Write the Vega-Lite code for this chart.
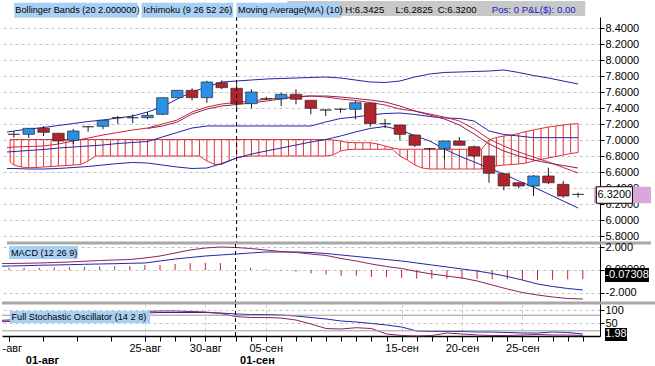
{
"$schema": "https://vega.github.io/schema/vega-lite/v6.json",
"padding": 0,
"spacing": 1,
"bounds": "flush",
"background": "white",
"config": {"view": {"stroke": null}, "font": "Liberation Sans", "axis": {"labelFont": "Liberation Sans", "labelFontSize": 11, "labelColor": "#000"}, "text": {"font": "Liberation Sans"}},
"datasets": {
"d": [
{"i":-0.46,"up":7.10,"lo":6.644,"kj":6.85,"ma":6.906,"md":0.557,"sg":0.33,"sk":60.4,"sd":55.0},
{"i":0,"o":7.071,"h":7.1125,"l":7.029,"c":7.071,"up":7.1125,"lo":6.644,"kj":6.856,"ma":6.9125,"md":0.565,"sg":0.348,"hs":0.2,"sk":61.5,"sd":55.8},
{"i":1,"o":7.071,"h":7.146,"l":7.025,"c":7.146,"up":7.1375,"lo":6.6375,"kj":6.869,"ma":6.919,"md":0.583,"sg":0.374,"hs":0.2,"sk":63.5,"sd":57.7},
{"i":2,"o":7.146,"h":7.175,"l":7.05,"c":7.096,"up":7.156,"lo":6.6375,"kj":6.881,"ma":6.925,"md":0.609,"sg":0.409,"hs":0.2,"sk":65.4,"sd":59.6},
{"i":3,"o":7.084,"h":7.09,"l":6.95,"c":6.9875,"up":7.181,"lo":6.644,"kj":6.90,"ma":6.95,"md":0.652,"sg":0.435,"hs":0.22,"sk":69.2,"sd":63.5},
{"i":4,"o":6.996,"h":7.1375,"l":6.95,"c":7.1125,"up":7.206,"lo":6.656,"kj":6.9125,"ma":6.9875,"md":0.696,"sg":0.461,"hs":0.24,"sk":71.2,"sd":65.4},
{"i":5,"o":7.166,"h":7.17,"l":7.104,"c":7.166,"up":7.231,"lo":6.669,"kj":6.925,"ma":7.025,"md":0.757,"sg":0.496,"hs":0.26,"sk":73.1,"sd":69.2},
{"i":6,"o":7.171,"h":7.246,"l":7.134,"c":7.246,"up":7.25,"lo":6.6875,"kj":6.9375,"ma":7.0625,"md":0.826,"sg":0.522,"hs":0.3,"sk":76.9,"sd":73.1},
{"i":7,"o":7.279,"h":7.30,"l":7.20,"c":7.279,"up":7.275,"lo":6.706,"kj":6.956,"ma":7.094,"md":0.87,"sg":0.548,"hs":0.32,"sk":80.8,"sd":78.8},
{"i":8,"o":7.279,"h":7.32,"l":7.21,"c":7.279,"up":7.30,"lo":6.719,"kj":6.969,"ma":7.125,"md":0.913,"sg":0.583,"hs":0.33,"sk":84.6,"sd":86.5},
{"i":9,"o":7.279,"h":7.35,"l":7.26,"c":7.309,"up":7.35,"lo":6.7125,"kj":6.981,"ma":7.15,"pu":7.144,"md":1.043,"sg":0.609,"hs":0.43,"sk":88.5,"sd":94.2},
{"i":10,"o":7.321,"h":7.53,"l":7.31,"c":7.529,"up":7.4125,"lo":6.6875,"kj":7.0375,"ma":7.20,"pu":7.175,"md":1.217,"sg":0.783,"hs":0.43,"sk":90.4,"sd":96.2},
{"i":11,"o":7.529,"h":7.621,"l":7.529,"c":7.621,"up":7.5125,"lo":6.6625,"kj":7.094,"ma":7.25,"pu":7.225,"md":1.478,"sg":0.957,"hs":0.52,"sk":90.4,"sd":96.2},
{"i":12,"o":7.621,"h":7.646,"l":7.496,"c":7.529,"up":7.60,"lo":6.644,"kj":7.15,"ma":7.35,"pu":7.325,"md":1.739,"sg":1.087,"hs":0.6,"sk":90.4,"sd":94.2},
{"i":13,"o":7.529,"h":7.74,"l":7.466,"c":7.725,"up":7.6625,"lo":6.65,"kj":7.175,"ma":7.4125,"pu":7.3875,"md":1.913,"sg":1.217,"hs":0.62,"sk":90.4,"sd":92.3},
{"i":14,"o":7.716,"h":7.746,"l":7.634,"c":7.654,"up":7.725,"lo":6.706,"kj":7.175,"ma":7.45,"pu":7.425,"md":2.0,"sg":1.304,"hs":0.6,"sk":88.5,"sd":86.5},
{"i":15,"o":7.646,"h":7.696,"l":7.3625,"c":7.454,"up":7.7375,"lo":6.775,"kj":7.175,"ma":7.469,"pu":7.444,"md":1.957,"sg":1.391,"hs":0.3,"sk":84.6,"sd":75},
{"i":16,"o":7.454,"h":7.634,"l":7.396,"c":7.60,"up":7.75,"lo":6.825,"kj":7.175,"ma":7.4875,"pu":7.4625,"md":1.87,"sg":1.478,"hs":0.2,"sk":82.7,"sd":71.2},
{"i":17,"o":7.516,"h":7.54,"l":7.50,"c":7.516,"up":7.7625,"lo":6.8625,"kj":7.175,"ma":7.509,"pu":7.4875,"md":1.739,"sg":1.565,"hs":0.08,"sk":82.7,"sd":71.2},
{"i":18,"o":7.516,"h":7.59,"l":7.425,"c":7.571,"up":7.769,"lo":6.90,"kj":7.175,"ma":7.525,"pu":7.5125,"md":1.609,"sg":1.565,"hs":-0.05,"sk":80.8,"sd":69.2},
{"i":19,"o":7.571,"h":7.634,"l":7.446,"c":7.509,"up":7.775,"lo":6.9375,"kj":7.175,"ma":7.544,"pu":7.5375,"md":1.522,"sg":1.565,"hs":-0.15,"sk":76.9,"sd":61.5},
{"i":20,"o":7.496,"h":7.496,"l":7.321,"c":7.396,"up":7.781,"lo":6.975,"kj":7.175,"ma":7.55,"pu":7.55,"md":1.391,"sg":1.522,"hs":-0.3,"sk":71.2,"sd":46.2},
{"i":21,"o":7.375,"h":7.38,"l":7.30,"c":7.375,"up":7.7875,"lo":7.006,"kj":7.225,"ma":7.5375,"pu":7.55,"md":1.261,"sg":1.435,"hs":-0.4,"sk":65.4,"sd":28.8},
{"i":22,"o":7.384,"h":7.40,"l":7.34,"c":7.384,"up":7.775,"lo":7.05,"kj":7.269,"ma":7.5125,"pu":7.5375,"md":1.0,"sg":1.304,"hs":-0.5,"sk":57.7,"sd":26.9},
{"i":23,"o":7.384,"h":7.4875,"l":7.259,"c":7.466,"up":7.75,"lo":7.10,"kj":7.2875,"ma":7.494,"pu":7.519,"md":0.783,"sg":1.174,"hs":-0.5,"sk":53.8,"sd":31.9},
{"i":24,"o":7.459,"h":7.4625,"l":7.166,"c":7.206,"up":7.725,"lo":7.144,"kj":7.3125,"ma":7.469,"pu":7.50,"md":0.522,"sg":1.043,"hs":-0.6,"sk":48.1,"sd":28.8},
{"i":25,"o":7.204,"h":7.2625,"l":7.15,"c":7.204,"up":7.719,"lo":7.169,"kj":7.331,"ma":7.4375,"pu":7.475,"md":0.304,"sg":0.913,"hs":-0.6,"sk":42.3,"sd":7.7},
{"i":26,"o":7.1875,"h":7.19,"l":6.996,"c":7.071,"up":7.7375,"lo":7.125,"kj":7.3375,"ma":7.3875,"pu":7.425,"md":0.13,"sg":0.783,"hs":-0.7,"sk":34.6,"sd":1.9},
{"i":27,"o":7.0625,"h":7.065,"l":6.9125,"c":6.934,"up":7.7875,"lo":7.056,"kj":7.319,"ma":7.3625,"pu":7.3625,"md":-0.13,"sg":0.609,"hs":-0.75,"sk":19.2,"sd":0},
{"i":28,"o":6.891,"h":6.90,"l":6.87,"c":6.891,"up":7.825,"lo":6.9875,"kj":7.294,"ma":7.325,"pu":7.3125,"md":-0.348,"sg":0.435,"hs":-0.75,"sk":17.3,"sd":1.9},
{"i":29,"o":6.891,"h":6.9875,"l":6.759,"c":6.9875,"up":7.844,"lo":6.8875,"kj":7.275,"ma":7.2875,"pu":7.2625,"md":-0.522,"sg":0.261,"hs":-0.75,"sk":17.3,"sd":11.5},
{"i":30,"o":6.9875,"h":7.0375,"l":6.93,"c":6.934,"up":7.85,"lo":6.80,"kj":7.269,"ma":7.2375,"pu":7.1875,"md":-0.696,"sg":0.087,"hs":-0.75,"sk":17.3,"sd":7.7},
{"i":31,"o":6.916,"h":6.93,"l":6.78,"c":6.80,"up":7.856,"lo":6.725,"kj":7.2375,"ma":7.1375,"pu":7.075,"md":-0.957,"sg":-0.087,"hs":-0.78,"sk":15.4,"sd":3.8},
{"i":32,"o":6.80,"h":6.80,"l":6.466,"c":6.584,"up":7.8625,"lo":6.65,"kj":7.1125,"ma":7.0125,"pu":6.95,"md":-1.304,"sg":-0.304,"hs":-0.8,"sk":15.4,"sd":1.9},
{"i":33,"o":6.579,"h":6.58,"l":6.371,"c":6.425,"up":7.875,"lo":6.575,"kj":7.069,"ma":6.925,"pu":6.8625,"md":-1.652,"sg":-0.565,"hs":-0.8,"sk":13.5,"sd":1.9},
{"i":34,"o":6.466,"h":6.466,"l":6.396,"c":6.425,"up":7.844,"lo":6.4875,"kj":7.05,"ma":6.85,"pu":6.80,"md":-1.957,"sg":-0.87,"hs":-0.85,"sk":11.5,"sd":3.8},
{"i":35,"o":6.425,"h":6.5625,"l":6.30,"c":6.55,"up":7.806,"lo":6.4125,"kj":7.029,"ma":6.7875,"pu":6.75,"md":-2.174,"sg":-1.217,"hs":-0.85,"sk":11.5,"sd":5.8},
{"i":36,"o":6.55,"h":6.654,"l":6.45,"c":6.466,"up":7.775,"lo":6.325,"kj":7.029,"ma":6.725,"pu":6.7125,"md":-2.348,"sg":-1.435,"hs":-0.85,"sk":15.4,"sd":3.8},
{"i":37,"o":6.446,"h":6.4875,"l":6.279,"c":6.30,"up":7.7375,"lo":6.2375,"kj":7.029,"ma":6.656,"pu":6.681,"md":-2.478,"sg":-1.609,"hs":-0.82,"sk":13.5,"sd":3.8},
{"i":38,"o":6.32,"h":6.3425,"l":6.2825,"c":6.32,"up":7.70,"lo":6.15,"kj":7.029,"ma":6.5875,"pu":6.65,"md":-2.522,"sg":-1.739,"hs":-0.8,"sk":7.7,"sd":1.98}
],
"cloud": [
{"i":-0.25,"t":7.006,"b":6.725},{"i":0,"t":7.006,"b":6.6875},{"i":0.5,"t":7.006,"b":6.6625},{"i":1,"t":7.006,"b":6.654},{"i":1.5,"t":7.006,"b":6.656},{"i":2,"t":7.006,"b":6.6625},{"i":2.5,"t":7.006,"b":6.669},{"i":3,"t":7.006,"b":6.675},{"i":3.5,"t":7.006,"b":6.681},{"i":4,"t":7.006,"b":6.6875},{"i":4.5,"t":7.006,"b":6.694},{"i":5,"t":7.006,"b":6.7375},{"i":5.5,"t":7.006,"b":6.80},
{"i":6,"t":7.006,"b":6.80},{"i":6.5,"t":7.006,"b":6.80},{"i":7,"t":7.006,"b":6.80},{"i":7.5,"t":7.006,"b":6.80},{"i":8,"t":7.006,"b":6.80},{"i":8.5,"t":7.006,"b":6.80},{"i":9,"t":7.006,"b":6.80},{"i":9.5,"t":7.006,"b":6.80},{"i":10,"t":7.006,"b":6.80},{"i":10.5,"t":7.006,"b":6.80},{"i":11,"t":7.006,"b":6.80},{"i":11.5,"t":7.006,"b":6.80},{"i":12,"t":7.006,"b":6.80},{"i":12.5,"t":7.006,"b":6.80},
{"i":13,"t":7.006,"b":6.7375},{"i":13.5,"t":7.006,"b":6.696},{"i":14,"t":7.006,"b":6.696},{"i":14.5,"t":7.006,"b":6.7375},{"i":15,"t":7.006,"b":6.779},{"i":15.5,"t":7.006,"b":6.794},
{"i":16,"t":7.006,"b":6.80},{"i":16.5,"t":7.006,"b":6.80},{"i":17,"t":7.006,"b":6.80},{"i":17.5,"t":7.006,"b":6.80},{"i":18,"t":7.006,"b":6.80},{"i":18.5,"t":7.006,"b":6.80},{"i":19,"t":7.006,"b":6.80},{"i":19.5,"t":7.006,"b":6.80},{"i":20,"t":7.006,"b":6.80},{"i":20.5,"t":7.006,"b":6.80},{"i":21,"t":7.006,"b":6.80},
{"i":21.5,"t":7.0,"b":6.8125},{"i":22,"t":6.9875,"b":6.8625},{"i":22.5,"t":6.969,"b":6.88},{"i":23,"t":6.966,"b":6.884},{"i":23.5,"t":6.966,"b":6.884},{"i":24,"t":6.966,"b":6.884},{"i":24.5,"t":6.95,"b":6.884},{"i":25,"t":6.925,"b":6.884},{"i":25.5,"t":6.90,"b":6.884},
{"i":26,"t":6.884,"b":6.80},{"i":26.5,"t":6.884,"b":6.75},{"i":27,"t":6.884,"b":6.6875},{"i":27.5,"t":6.884,"b":6.65},{"i":28,"t":6.884,"b":6.6375},{"i":28.5,"t":6.884,"b":6.6375},{"i":29,"t":6.884,"b":6.6375},{"i":29.5,"t":6.884,"b":6.6375},{"i":30,"t":6.884,"b":6.6375},{"i":30.5,"t":6.884,"b":6.6375},{"i":31,"t":6.884,"b":6.6375},{"i":31.5,"t":6.884,"b":6.6375},
{"i":32,"t":7.0,"b":6.6625},{"i":32.5,"t":7.031,"b":6.675},{"i":33,"t":7.05,"b":6.6875},{"i":33.5,"t":7.0625,"b":6.694},{"i":34,"t":7.081,"b":6.70},{"i":34.5,"t":7.106,"b":6.7125},{"i":35,"t":7.125,"b":6.7375},{"i":35.5,"t":7.144,"b":6.756},{"i":36,"t":7.1625,"b":6.775},{"i":36.5,"t":7.175,"b":6.794},{"i":37,"t":7.1875,"b":6.8125},{"i":37.5,"t":7.20,"b":6.831},{"i":38,"t":7.204,"b":6.844}
]
},
"vconcat": [
{
"width": 598, "height": 226,
"data": {"name": "d"},
"resolve": {"axis": {"y": "independent"}},
"layer": [
{"data": {"name": "cloud"}, "mark": {"type": "rule", "color": "#e0303a", "strokeWidth": 1},
 "encoding": {
  "x": {"field": "i", "type": "quantitative", "scale": {"domain": [-0.4636, 39.139], "nice": false, "zero": false},
        "axis": {"values": [9, 13, 17, 26, 30, 34], "labels": false, "ticks": false, "domain": false, "grid": true, "gridDash": [3, 3], "gridColor": "#c4c4c4", "title": null}},
  "y": {"field": "t", "type": "quantitative", "scale": {"domain": [5.7125, 8.5375], "nice": false, "zero": false},
        "axis": {"orient": "right", "values": [5.8, 6.0, 6.2, 6.4, 6.6, 6.8, 7.0, 7.2, 7.4, 7.6, 7.8, 8.0, 8.2, 8.4], "format": ".4f", "grid": true, "gridDash": [3, 3], "gridColor": "#c4c4c4", "tickSize": 4, "tickColor": "#000", "domainColor": "#000", "labelPadding": 1, "title": null}},
  "y2": {"field": "b"}}},
{"data": {"name": "cloud"}, "mark": {"type": "line", "color": "#e0303a", "strokeWidth": 1},
 "encoding": {"x": {"field": "i", "type": "quantitative", "scale": {"domain": [-0.4636, 39.139], "nice": false, "zero": false}, "axis": null},
  "y": {"field": "t", "type": "quantitative", "scale": {"domain": [5.7125, 8.5375], "nice": false, "zero": false}, "axis": null}}},
{"data": {"name": "cloud"}, "mark": {"type": "line", "color": "#e0303a", "strokeWidth": 1},
 "encoding": {"x": {"field": "i", "type": "quantitative", "scale": {"domain": [-0.4636, 39.139], "nice": false, "zero": false}, "axis": null},
  "y": {"field": "b", "type": "quantitative", "scale": {"domain": [5.7125, 8.5375], "nice": false, "zero": false}, "axis": null}}},
{"mark": {"type": "line", "color": "#2323a8", "strokeWidth": 1},
 "encoding": {"x": {"field": "i", "type": "quantitative", "scale": {"domain": [-0.4636, 39.139], "nice": false, "zero": false}, "axis": null},
  "y": {"field": "up", "type": "quantitative", "scale": {"domain": [5.7125, 8.5375], "nice": false, "zero": false}, "axis": null}}},
{"mark": {"type": "line", "color": "#2323a8", "strokeWidth": 1},
 "encoding": {"x": {"field": "i", "type": "quantitative", "scale": {"domain": [-0.4636, 39.139], "nice": false, "zero": false}, "axis": null},
  "y": {"field": "lo", "type": "quantitative", "scale": {"domain": [5.7125, 8.5375], "nice": false, "zero": false}, "axis": null}}},
{"mark": {"type": "line", "color": "#2323a8", "strokeWidth": 1},
 "encoding": {"x": {"field": "i", "type": "quantitative", "scale": {"domain": [-0.4636, 39.139], "nice": false, "zero": false}, "axis": null},
  "y": {"field": "kj", "type": "quantitative", "scale": {"domain": [5.7125, 8.5375], "nice": false, "zero": false}, "axis": null}}},
{"mark": {"type": "line", "color": "#cc2435", "strokeWidth": 1},
 "encoding": {"x": {"field": "i", "type": "quantitative", "scale": {"domain": [-0.4636, 39.139], "nice": false, "zero": false}, "axis": null},
  "y": {"field": "ma", "type": "quantitative", "scale": {"domain": [5.7125, 8.5375], "nice": false, "zero": false}, "axis": null}}},
{"mark": {"type": "line", "color": "#8c2060", "strokeWidth": 1},
 "encoding": {"x": {"field": "i", "type": "quantitative", "scale": {"domain": [-0.4636, 39.139], "nice": false, "zero": false}, "axis": null},
  "y": {"field": "pu", "type": "quantitative", "scale": {"domain": [5.7125, 8.5375], "nice": false, "zero": false}, "axis": null}}},
{"mark": {"type": "rule", "color": "#1a1a1a", "strokeWidth": 1},
 "encoding": {"x": {"field": "i", "type": "quantitative", "scale": {"domain": [-0.4636, 39.139], "nice": false, "zero": false}, "axis": null},
  "y": {"field": "l", "type": "quantitative", "scale": {"domain": [5.7125, 8.5375], "nice": false, "zero": false}, "axis": null},
  "y2": {"field": "h"}}},
{"mark": {"type": "bar", "width": 11.5, "stroke": "#2a2a2a", "strokeWidth": 0.7},
 "encoding": {"x": {"field": "i", "type": "quantitative", "scale": {"domain": [-0.4636, 39.139], "nice": false, "zero": false}, "axis": null},
  "y": {"field": "o", "type": "quantitative", "scale": {"domain": [5.7125, 8.5375], "nice": false, "zero": false}, "axis": null},
  "y2": {"field": "c"},
  "fill": {"condition": {"test": "datum.c > datum.o", "value": "#2a8fe6"}, "value": "#b3232d"}}},
{"data": {"values": [{}]}, "mark": {"type": "rule", "color": "#000", "strokeDash": [4, 3], "strokeWidth": 1},
 "encoding": {"x": {"datum": 15, "type": "quantitative", "axis": null}}},
{"data": {"values": [{}]}, "mark": {"type": "rule", "color": "#a8a8a8", "strokeWidth": 3},
 "encoding": {"x": {"datum": -0.4636, "type": "quantitative", "axis": null}, "x2": {"datum": 42.91}, "y": {"datum": 5.7125, "type": "quantitative", "axis": null}}},
{"data": {"values": [{}]}, "mark": {"type": "rect", "color": "#c8c8c8"},
 "encoding": {"x": {"datum": 18.41, "type": "quantitative", "axis": null}, "x2": {"datum": 38.48}, "y": {"datum": 8.7375, "type": "quantitative", "axis": null}, "y2": {"datum": 8.55}}},
{"data": {"values": [{}]}, "mark": {"type": "rect", "color": "#a8d0f4"},
 "encoding": {"x": {"datum": 0.02, "type": "quantitative", "axis": null}, "x2": {"datum": 8.32}, "y": {"datum": 8.716, "type": "quantitative", "axis": null}, "y2": {"datum": 8.529}}},
{"data": {"values": [{}]}, "mark": {"type": "rect", "color": "#a8d0f4"},
 "encoding": {"x": {"datum": 8.59, "type": "quantitative", "axis": null}, "x2": {"datum": 14.77}, "y": {"datum": 8.716, "type": "quantitative", "axis": null}, "y2": {"datum": 8.529}}},
{"data": {"values": [{}]}, "mark": {"type": "rect", "color": "#a8d0f4"},
 "encoding": {"x": {"datum": 14.99, "type": "quantitative", "axis": null}, "x2": {"datum": 22.05}, "y": {"datum": 8.716, "type": "quantitative", "axis": null}, "y2": {"datum": 8.529}}},
{"data": {"values": [{}]}, "mark": {"type": "text", "align": "left", "baseline": "middle", "fontSize": 9.2, "color": "#000"},
 "encoding": {"x": {"datum": 0.1, "type": "quantitative", "axis": null}, "y": {"datum": 8.619, "type": "quantitative", "axis": null}, "text": {"value": "Bollinger Bands (20 2.000000)"}}},
{"data": {"values": [{}]}, "mark": {"type": "text", "align": "left", "baseline": "middle", "fontSize": 9.2, "color": "#000"},
 "encoding": {"x": {"datum": 8.72, "type": "quantitative", "axis": null}, "y": {"datum": 8.619, "type": "quantitative", "axis": null}, "text": {"value": "Ichimoku (9 26 52 26)"}}},
{"data": {"values": [{}]}, "mark": {"type": "text", "align": "left", "baseline": "middle", "fontSize": 9.2, "color": "#000"},
 "encoding": {"x": {"datum": 15.1, "type": "quantitative", "axis": null}, "y": {"datum": 8.619, "type": "quantitative", "axis": null}, "text": {"value": "Moving Average(MA) (10)"}}},
{"data": {"values": [{}]}, "mark": {"type": "text", "align": "left", "baseline": "middle", "fontSize": 9.6, "color": "#000"},
 "encoding": {"x": {"datum": 22.32, "type": "quantitative", "axis": null}, "y": {"datum": 8.619, "type": "quantitative", "axis": null}, "text": {"value": "H:6.3425"}}},
{"data": {"values": [{}]}, "mark": {"type": "text", "align": "left", "baseline": "middle", "fontSize": 9.6, "color": "#000"},
 "encoding": {"x": {"datum": 25.7, "type": "quantitative", "axis": null}, "y": {"datum": 8.619, "type": "quantitative", "axis": null}, "text": {"value": "L:6.2825"}}},
{"data": {"values": [{}]}, "mark": {"type": "text", "align": "left", "baseline": "middle", "fontSize": 9.6, "color": "#000"},
 "encoding": {"x": {"datum": 28.54, "type": "quantitative", "axis": null}, "y": {"datum": 8.619, "type": "quantitative", "axis": null}, "text": {"value": "C:6.3200"}}},
{"data": {"values": [{}]}, "mark": {"type": "text", "align": "left", "baseline": "middle", "fontSize": 9.6, "color": "#2020c0"},
 "encoding": {"x": {"datum": 32.19, "type": "quantitative", "axis": null}, "y": {"datum": 8.619, "type": "quantitative", "axis": null}, "text": {"value": "Pos: 0 P&L($): 0.00"}}},
{"data": {"values": [{}]}, "mark": {"type": "rect", "color": "#d9a7d9"},
 "encoding": {"x": {"datum": 39.07, "type": "quantitative", "axis": null}, "x2": {"datum": 42.91}, "y": {"datum": 6.416, "type": "quantitative", "axis": null}, "y2": {"datum": 6.209}}},
{"data": {"values": [{}]}, "mark": {"type": "rect", "fill": "#fff", "stroke": "#000", "strokeWidth": 1},
 "encoding": {"x": {"datum": 39.23, "type": "quantitative", "axis": null}, "x2": {"datum": 41.66}, "y": {"datum": 6.416, "type": "quantitative", "axis": null}, "y2": {"datum": 6.209}}},
{"data": {"values": [{}]}, "mark": {"type": "text", "align": "center", "baseline": "middle", "fontSize": 11, "color": "#000"},
 "encoding": {"x": {"datum": 40.44, "type": "quantitative", "axis": null}, "y": {"datum": 6.3125, "type": "quantitative", "axis": null}, "text": {"value": "6.3200"}}}
]
},
{
"width": 598, "height": 59,
"data": {"name": "d"},
"resolve": {"axis": {"y": "independent"}},
"layer": [
{"mark": {"type": "rule", "color": "#c0203a", "strokeWidth": 1},
 "encoding": {
  "x": {"field": "i", "type": "quantitative", "scale": {"domain": [-0.4636, 39.139], "nice": false, "zero": false},
        "axis": {"values": [9, 13, 17, 26, 30, 34], "labels": false, "ticks": false, "domain": false, "grid": true, "gridDash": [3, 3], "gridColor": "#c4c4c4", "title": null}},
  "y": {"field": "hs", "type": "quantitative", "scale": {"domain": [-2.870, 2.261], "nice": false, "zero": false},
        "axis": {"orient": "right", "values": [-2, 0, 2], "labelExpr": "datum.value == 2 ? '2.000' : datum.value == 0 ? '0.00000' : '-2.000'", "grid": true, "gridDash": [3, 3], "gridColor": "#c4c4c4", "tickSize": 4, "tickColor": "#000", "domainColor": "#000", "labelPadding": 1, "title": null}},
  "y2": {"datum": 0}}},
{"mark": {"type": "line", "color": "#2323a8", "strokeWidth": 1},
 "encoding": {"x": {"field": "i", "type": "quantitative", "scale": {"domain": [-0.4636, 39.139], "nice": false, "zero": false}, "axis": null},
  "y": {"field": "sg", "type": "quantitative", "scale": {"domain": [-2.870, 2.261], "nice": false, "zero": false}, "axis": null}}},
{"mark": {"type": "line", "color": "#8c2060", "strokeWidth": 1},
 "encoding": {"x": {"field": "i", "type": "quantitative", "scale": {"domain": [-0.4636, 39.139], "nice": false, "zero": false}, "axis": null},
  "y": {"field": "md", "type": "quantitative", "scale": {"domain": [-2.870, 2.261], "nice": false, "zero": false}, "axis": null}}},
{"data": {"values": [{}]}, "mark": {"type": "rule", "color": "#000", "strokeDash": [4, 3], "strokeWidth": 1},
 "encoding": {"x": {"datum": 15, "type": "quantitative", "axis": null}}},
{"data": {"values": [{}]}, "mark": {"type": "rule", "color": "#a8a8a8", "strokeWidth": 3},
 "encoding": {"x": {"datum": -0.4636, "type": "quantitative", "axis": null}, "x2": {"datum": 42.91}, "y": {"datum": -2.870, "type": "quantitative", "axis": null}}},
{"data": {"values": [{}]}, "mark": {"type": "rect", "color": "#a8d0f4"},
 "encoding": {"x": {"datum": 0.0, "type": "quantitative", "axis": null}, "x2": {"datum": 4.57}, "y": {"datum": 2.087, "type": "quantitative", "axis": null}, "y2": {"datum": 0.957}}},
{"data": {"values": [{}]}, "mark": {"type": "text", "align": "left", "baseline": "middle", "fontSize": 9.2, "color": "#000"},
 "encoding": {"x": {"datum": 0.13, "type": "quantitative", "axis": null}, "y": {"datum": 1.52, "type": "quantitative", "axis": null}, "text": {"value": "MACD (12 26 9)"}}},
{"data": {"values": [{}]}, "mark": {"type": "rect", "color": "#000"},
 "encoding": {"x": {"datum": 39.47, "type": "quantitative", "axis": null}, "x2": {"datum": 42.38}, "y": {"datum": 0.174, "type": "quantitative", "axis": null}, "y2": {"datum": -1.043}}},
{"data": {"values": [{}]}, "mark": {"type": "text", "align": "center", "baseline": "middle", "fontSize": 11, "color": "#fff"},
 "encoding": {"x": {"datum": 40.93, "type": "quantitative", "axis": null}, "y": {"datum": -0.435, "type": "quantitative", "axis": null}, "text": {"value": "-0.07308"}}}
]
},
{
"width": 598, "height": 32,
"data": {"name": "d"},
"resolve": {"axis": {"x": "independent", "y": "independent"}},
"layer": [
{"mark": {"type": "line", "color": "#2323a8", "strokeWidth": 1},
 "encoding": {
  "x": {"field": "i", "type": "quantitative", "scale": {"domain": [-0.4636, 39.139], "nice": false, "zero": false},
        "axis": {"orient": "bottom", "values": [0, 9, 13, 17, 26, 30, 34],
                 "labelExpr": "datum.value == 0 ? '-авг' : datum.value == 9 ? '25-авг' : datum.value == 13 ? '30-авг' : datum.value == 17 ? '05-сен' : datum.value == 26 ? '15-сен' : datum.value == 30 ? '20-сен' : '25-сен'",
                 "labelAlign": {"condition": {"test": "datum.value == 0", "value": "left"}, "value": "center"},
                 "labelOffset": {"condition": {"test": "datum.value == 0", "value": -7}, "value": 0},
                 "gridOpacity": {"condition": {"test": "datum.value == 0", "value": 0}, "value": 1},
                 "grid": true, "gridDash": [3, 3], "gridColor": "#c4c4c4", "domainColor": "#000", "domainWidth": 1.5, "tickColor": "#000", "tickSize": 5, "labelPadding": 1, "labelFlush": false, "labelOverlap": false, "title": null}},
  "y": {"field": "sk", "type": "quantitative", "scale": {"domain": [0, 123.1], "nice": false, "zero": false},
        "axis": {"orient": "right", "values": [50, 100], "grid": true, "gridDash": [3, 3], "gridColor": "#c4c4c4", "tickSize": 4, "tickColor": "#000", "domainColor": "#000", "labelPadding": 1, "title": null}}}},
{"mark": {"type": "line", "color": "#8c2060", "strokeWidth": 1},
 "encoding": {"x": {"field": "i", "type": "quantitative", "scale": {"domain": [-0.4636, 39.139], "nice": false, "zero": false},
   "axis": {"orient": "bottom", "values": [0, 2.25, 4.5, 6.75, 9, 10, 11, 12, 13, 14, 15, 16, 17, 18, 19, 20, 21, 22, 23, 24, 25, 26, 27, 28, 29, 30, 31, 32, 33, 34, 35, 36, 37, 38], "labels": false, "domain": false, "grid": false, "tickColor": "#000", "tickSize": 5, "title": null}},
  "y": {"field": "sd", "type": "quantitative", "scale": {"domain": [0, 123.1], "nice": false, "zero": false}, "axis": null}}},
{"data": {"values": [{"lv": 80}, {"lv": 20}]}, "mark": {"type": "rule", "color": "#9a9a9a", "strokeWidth": 1},
 "encoding": {"y": {"field": "lv", "type": "quantitative", "scale": {"domain": [0, 123.1], "nice": false, "zero": false}, "axis": null}}},
{"data": {"values": [{}]}, "mark": {"type": "rule", "color": "#000", "strokeDash": [4, 3], "strokeWidth": 1},
 "encoding": {"x": {"datum": 15, "type": "quantitative",
   "axis": {"orient": "bottom", "values": [2.185, 16.42], "labelExpr": "datum.value < 10 ? '01-авг' : '01-сен'", "labelFontWeight": "bold", "labelFontSize": 11, "domain": false, "ticks": false, "grid": false, "offset": 16, "labelPadding": 2, "labelFlush": false, "labelOverlap": false, "title": null}}}},
{"data": {"values": [{}]}, "mark": {"type": "rect", "color": "#a8d0f4"},
 "encoding": {"x": {"datum": 0.066, "type": "quantitative", "axis": null}, "x2": {"datum": 9.34}, "y": {"datum": 96.2, "type": "quantitative", "axis": null}, "y2": {"datum": 50}}},
{"data": {"values": [{}]}, "mark": {"type": "text", "align": "left", "baseline": "middle", "fontSize": 9.2, "color": "#000"},
 "encoding": {"x": {"datum": 0.166, "type": "quantitative", "axis": null}, "y": {"datum": 73.1, "type": "quantitative", "axis": null}, "text": {"value": "Full Stochastic Oscillator (14 2 8)"}}},
{"data": {"values": [{}]}, "mark": {"type": "rect", "color": "#000"},
 "encoding": {"x": {"datum": 39.47, "type": "quantitative", "axis": null}, "x2": {"datum": 40.93}, "y": {"datum": 30.8, "type": "quantitative", "axis": null}, "y2": {"datum": -19.2}}},
{"data": {"values": [{}]}, "mark": {"type": "text", "align": "center", "baseline": "middle", "fontSize": 11, "color": "#fff"},
 "encoding": {"x": {"datum": 40.2, "type": "quantitative", "axis": null}, "y": {"datum": 5.8, "type": "quantitative", "axis": null}, "text": {"value": "1.98"}}}
]
}
]
}
